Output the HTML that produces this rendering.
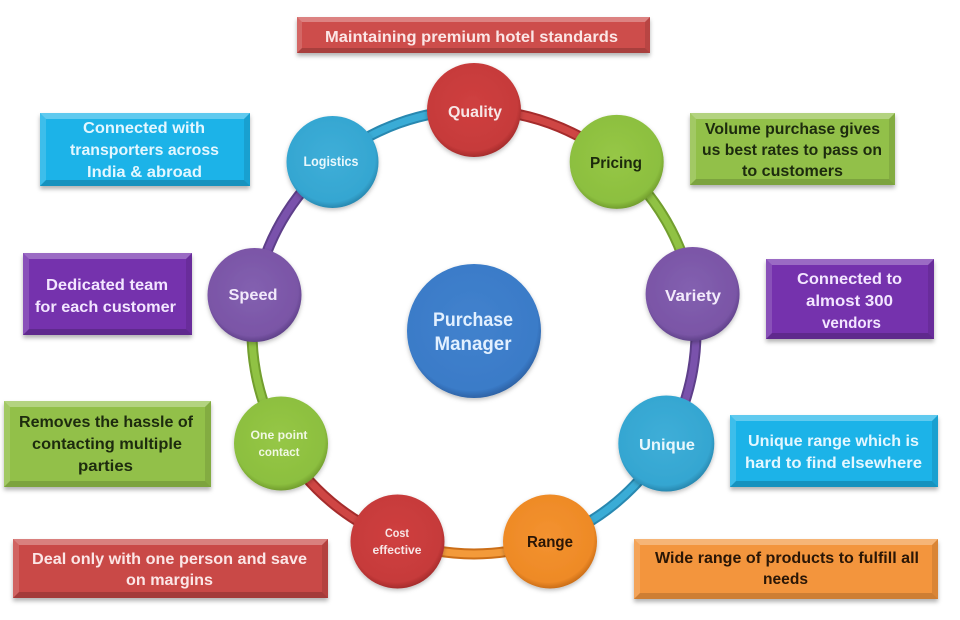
<!DOCTYPE html>
<html><head><meta charset="utf-8"><style>
html,body{margin:0;padding:0;background:#fff;}
svg{display:block;}
text{font-family:"Liberation Sans",sans-serif;font-weight:bold;text-anchor:middle;}
</style></head><body>
<svg width="960" height="620" viewBox="0 0 960 620" xmlns="http://www.w3.org/2000/svg">
<defs>
<filter id="sh" x="-10%" y="-20%" width="120%" height="150%"><feDropShadow dx="0" dy="3" stdDeviation="2" flood-color="#000" flood-opacity="0.3"/></filter>
<filter id="csh" x="-20%" y="-20%" width="140%" height="140%"><feDropShadow dx="0" dy="2" stdDeviation="2" flood-color="#000" flood-opacity="0.25"/></filter>
<radialGradient id="gr" cx="48%" cy="45%" r="55%"><stop offset="0" stop-color="#cf4040"/><stop offset="0.88" stop-color="#c63a3a"/><stop offset="1" stop-color="#a52c2c"/></radialGradient>
<radialGradient id="gg" cx="48%" cy="45%" r="55%"><stop offset="0" stop-color="#96c746"/><stop offset="0.88" stop-color="#8cbf3f"/><stop offset="1" stop-color="#729e2e"/></radialGradient>
<radialGradient id="gp" cx="48%" cy="45%" r="55%"><stop offset="0" stop-color="#8360b0"/><stop offset="0.88" stop-color="#7a55a6"/><stop offset="1" stop-color="#60428a"/></radialGradient>
<radialGradient id="gc" cx="48%" cy="45%" r="55%"><stop offset="0" stop-color="#3eaed8"/><stop offset="0.88" stop-color="#35a6d1"/><stop offset="1" stop-color="#2888b0"/></radialGradient>
<radialGradient id="go" cx="48%" cy="45%" r="55%"><stop offset="0" stop-color="#f39230"/><stop offset="0.88" stop-color="#ee8a26"/><stop offset="1" stop-color="#cb6e18"/></radialGradient>
<radialGradient id="gb" cx="48%" cy="45%" r="55%"><stop offset="0" stop-color="#4282cd"/><stop offset="0.9" stop-color="#3a7bc8"/><stop offset="1" stop-color="#2e63a6"/></radialGradient>
</defs>

<!-- ring arcs -->
<g fill="none" stroke-linecap="butt">
<path d="M474,110 A222,222 0 0 1 616.7,161.9" stroke="#a52c2c" stroke-width="11"/>
<path d="M474,110 A222,222 0 0 1 616.7,161.9" stroke="#cf4644" stroke-width="7"/>
<path d="M616.7,161.9 A222,222 0 0 1 692.6,293.5" stroke="#729e2e" stroke-width="11"/>
<path d="M616.7,161.9 A222,222 0 0 1 692.6,293.5" stroke="#90c244" stroke-width="7"/>
<path d="M692.6,293.5 A222,222 0 0 1 666.3,443" stroke="#5e3f8a" stroke-width="11"/>
<path d="M692.6,293.5 A222,222 0 0 1 666.3,443" stroke="#7a52ac" stroke-width="7"/>
<path d="M666.3,443 A222,222 0 0 1 549.9,540.6" stroke="#2888b0" stroke-width="11"/>
<path d="M666.3,443 A222,222 0 0 1 549.9,540.6" stroke="#3aacd6" stroke-width="7"/>
<path d="M549.9,540.6 A222,222 0 0 1 398.1,540.6" stroke="#cb6e18" stroke-width="11"/>
<path d="M549.9,540.6 A222,222 0 0 1 398.1,540.6" stroke="#f39a3a" stroke-width="7"/>
<path d="M398.1,540.6 A222,222 0 0 1 281.7,443" stroke="#a52c2c" stroke-width="11"/>
<path d="M398.1,540.6 A222,222 0 0 1 281.7,443" stroke="#cf4644" stroke-width="7"/>
<path d="M281.7,443 A222,222 0 0 1 255.4,293.5" stroke="#729e2e" stroke-width="11"/>
<path d="M281.7,443 A222,222 0 0 1 255.4,293.5" stroke="#90c244" stroke-width="7"/>
<path d="M255.4,293.5 A222,222 0 0 1 331.3,161.9" stroke="#5e3f8a" stroke-width="11"/>
<path d="M255.4,293.5 A222,222 0 0 1 331.3,161.9" stroke="#7a52ac" stroke-width="7"/>
<path d="M331.3,161.9 A222,222 0 0 1 474,110" stroke="#2888b0" stroke-width="11"/>
<path d="M331.3,161.9 A222,222 0 0 1 474,110" stroke="#3aacd6" stroke-width="7"/>
</g>

<!-- circles -->
<g filter="url(#csh)">
<circle cx="474" cy="110" r="47" fill="url(#gr)"/>
<circle cx="616.7" cy="161.9" r="47" fill="url(#gg)"/>
<circle cx="692.6" cy="294" r="47" fill="url(#gp)"/>
<circle cx="666.3" cy="443.5" r="48" fill="url(#gc)"/>
<circle cx="550" cy="541.5" r="47" fill="url(#go)"/>
<circle cx="397.5" cy="541.5" r="47" fill="url(#gr)"/>
<circle cx="281" cy="443.5" r="47" fill="url(#gg)"/>
<circle cx="254.5" cy="295" r="47" fill="url(#gp)"/>
<circle cx="332.5" cy="162" r="46" fill="url(#gc)"/>
<circle cx="474" cy="331" r="67" fill="url(#gb)"/>
</g>

<!-- circle labels -->
<text x="475" y="117" font-size="16" fill="#f7e6e6" textLength="54" lengthAdjust="spacingAndGlyphs">Quality</text>
<text x="616" y="168" font-size="16" fill="#1c2a0c" textLength="52" lengthAdjust="spacingAndGlyphs">Pricing</text>
<text x="693" y="301" font-size="16" fill="#f2eafb" textLength="56" lengthAdjust="spacingAndGlyphs">Variety</text>
<text x="667" y="450" font-size="16" fill="#e8f7fc" textLength="56" lengthAdjust="spacingAndGlyphs">Unique</text>
<text x="550" y="547" font-size="16" fill="#2a1606" textLength="46" lengthAdjust="spacingAndGlyphs">Range</text>
<text x="397" y="537" font-size="12" fill="#f7e6e6" textLength="24" lengthAdjust="spacingAndGlyphs">Cost</text>
<text x="397" y="554" font-size="12" fill="#f7e6e6" textLength="49" lengthAdjust="spacingAndGlyphs">effective</text>
<text x="279" y="439" font-size="12" fill="#f1f8e4" textLength="57" lengthAdjust="spacingAndGlyphs">One point</text>
<text x="279" y="456" font-size="12" fill="#f1f8e4" textLength="41" lengthAdjust="spacingAndGlyphs">contact</text>
<text x="253" y="300" font-size="16" fill="#f2eafb" textLength="49" lengthAdjust="spacingAndGlyphs">Speed</text>
<text x="331" y="166" font-size="14" fill="#e8f7fc" textLength="55" lengthAdjust="spacingAndGlyphs">Logistics</text>
<text x="473" y="326" font-size="19" fill="#e2f0ff" textLength="80" lengthAdjust="spacingAndGlyphs">Purchase</text>
<text x="473" y="350" font-size="19" fill="#e2f0ff" textLength="77" lengthAdjust="spacingAndGlyphs">Manager</text>

<!-- boxes -->
<g filter="url(#sh)"><rect x="297" y="17" width="353" height="36" fill="#cd4d4b"/></g>
<polygon points="297,17 650,17 645,22 302,22" fill="#fff" opacity="0.3"/>
<polygon points="297,53 650,53 645,48 302,48" fill="#000" opacity="0.18"/>
<polygon points="297,17 302,22 302,48 297,53" fill="#fff" opacity="0.15"/>
<polygon points="650,17 645,22 645,48 650,53" fill="#000" opacity="0.1"/>
<text x="471.5" y="42" font-size="16" fill="#fbe6e6" textLength="293" lengthAdjust="spacingAndGlyphs">Maintaining premium hotel standards</text>

<g filter="url(#sh)"><rect x="40" y="113" width="210" height="73" fill="#1ab3e8"/></g>
<polygon points="40,113 250,113 244,119 46,119" fill="#fff" opacity="0.3"/>
<polygon points="40,186 250,186 244,180 46,180" fill="#000" opacity="0.18"/>
<polygon points="40,113 46,119 46,180 40,186" fill="#fff" opacity="0.15"/>
<polygon points="250,113 244,119 244,180 250,186" fill="#000" opacity="0.1"/>
<text x="144" y="133" font-size="16" fill="#e3f7ff" textLength="122" lengthAdjust="spacingAndGlyphs">Connected with</text>
<text x="144.5" y="155" font-size="16" fill="#e3f7ff" textLength="149" lengthAdjust="spacingAndGlyphs">transporters across</text>
<text x="144.5" y="177" font-size="16" fill="#e3f7ff" textLength="115" lengthAdjust="spacingAndGlyphs">India &amp; abroad</text>

<g filter="url(#sh)"><rect x="23" y="253" width="169" height="82" fill="#7531ad"/></g>
<polygon points="23,253 192,253 186,259 29,259" fill="#fff" opacity="0.28"/>
<polygon points="23,335 192,335 186,329 29,329" fill="#000" opacity="0.18"/>
<polygon points="23,253 29,259 29,329 23,335" fill="#fff" opacity="0.15"/>
<polygon points="192,253 186,259 186,329 192,335" fill="#000" opacity="0.1"/>
<text x="107" y="290" font-size="16" fill="#f3e6ff" textLength="122" lengthAdjust="spacingAndGlyphs">Dedicated team</text>
<text x="105.5" y="312" font-size="16" fill="#f3e6ff" textLength="141" lengthAdjust="spacingAndGlyphs">for each customer</text>

<g filter="url(#sh)"><rect x="4" y="401" width="207" height="86" fill="#92c04a"/></g>
<polygon points="4,401 211,401 205,407 10,407" fill="#fff" opacity="0.3"/>
<polygon points="4,487 211,487 205,481 10,481" fill="#000" opacity="0.15"/>
<polygon points="4,401 10,407 10,481 4,487" fill="#fff" opacity="0.15"/>
<polygon points="211,401 205,407 205,481 211,487" fill="#000" opacity="0.1"/>
<text x="106" y="427" font-size="16" fill="#1d2b0e" textLength="174" lengthAdjust="spacingAndGlyphs">Removes the hassle of</text>
<text x="107" y="449" font-size="16" fill="#1d2b0e" textLength="150" lengthAdjust="spacingAndGlyphs">contacting multiple</text>
<text x="105.5" y="471" font-size="16" fill="#1d2b0e" textLength="55" lengthAdjust="spacingAndGlyphs">parties</text>

<g filter="url(#sh)"><rect x="13" y="539" width="315" height="59" fill="#c94a47"/></g>
<polygon points="13,539 328,539 322,545 19,545" fill="#fff" opacity="0.3"/>
<polygon points="13,598 328,598 322,592 19,592" fill="#000" opacity="0.18"/>
<polygon points="13,539 19,545 19,592 13,598" fill="#fff" opacity="0.15"/>
<polygon points="328,539 322,545 322,592 328,598" fill="#000" opacity="0.1"/>
<text x="169.5" y="564" font-size="16" fill="#fbe6e6" textLength="275" lengthAdjust="spacingAndGlyphs">Deal only with one person and save</text>
<text x="169.5" y="585" font-size="16" fill="#fbe6e6" textLength="87" lengthAdjust="spacingAndGlyphs">on margins</text>

<g filter="url(#sh)"><rect x="690" y="113" width="205" height="72" fill="#92c04a"/></g>
<polygon points="690,113 895,113 889,119 696,119" fill="#fff" opacity="0.3"/>
<polygon points="690,185 895,185 889,179 696,179" fill="#000" opacity="0.15"/>
<polygon points="690,113 696,119 696,179 690,185" fill="#fff" opacity="0.15"/>
<polygon points="895,113 889,119 889,179 895,185" fill="#000" opacity="0.1"/>
<text x="792.5" y="134" font-size="16" fill="#1d2b0e" textLength="175" lengthAdjust="spacingAndGlyphs">Volume purchase gives</text>
<text x="792" y="155" font-size="16" fill="#1d2b0e" textLength="180" lengthAdjust="spacingAndGlyphs">us best rates to pass  on</text>
<text x="792.5" y="176" font-size="16" fill="#1d2b0e" textLength="101" lengthAdjust="spacingAndGlyphs">to customers</text>

<g filter="url(#sh)"><rect x="766" y="259" width="168" height="80" fill="#7531ad"/></g>
<polygon points="766,259 934,259 928,265 772,265" fill="#fff" opacity="0.28"/>
<polygon points="766,339 934,339 928,333 772,333" fill="#000" opacity="0.18"/>
<polygon points="766,259 772,265 772,333 766,339" fill="#fff" opacity="0.15"/>
<polygon points="934,259 928,265 928,333 934,339" fill="#000" opacity="0.1"/>
<text x="849.5" y="284" font-size="16" fill="#f3e6ff" textLength="105" lengthAdjust="spacingAndGlyphs">Connected to</text>
<text x="849.5" y="306" font-size="16" fill="#f3e6ff" textLength="87" lengthAdjust="spacingAndGlyphs">almost 300</text>
<text x="851.5" y="328" font-size="16" fill="#f3e6ff" textLength="59" lengthAdjust="spacingAndGlyphs">vendors</text>

<g filter="url(#sh)"><rect x="730" y="415" width="208" height="72" fill="#1ab3e8"/></g>
<polygon points="730,415 938,415 932,421 736,421" fill="#fff" opacity="0.3"/>
<polygon points="730,487 938,487 932,481 736,481" fill="#000" opacity="0.18"/>
<polygon points="730,415 736,421 736,481 730,487" fill="#fff" opacity="0.15"/>
<polygon points="938,415 932,421 932,481 938,487" fill="#000" opacity="0.1"/>
<text x="833.5" y="446" font-size="16" fill="#e3f7ff" textLength="171" lengthAdjust="spacingAndGlyphs">Unique range which is</text>
<text x="833.5" y="468" font-size="16" fill="#e3f7ff" textLength="177" lengthAdjust="spacingAndGlyphs">hard to find elsewhere</text>

<g filter="url(#sh)"><rect x="634" y="539" width="304" height="60" fill="#f3953c"/></g>
<polygon points="634,539 938,539 932,545 640,545" fill="#fff" opacity="0.3"/>
<polygon points="634,599 938,599 932,593 640,593" fill="#000" opacity="0.15"/>
<polygon points="634,539 640,545 640,593 634,599" fill="#fff" opacity="0.15"/>
<polygon points="938,539 932,545 932,593 938,599" fill="#000" opacity="0.1"/>
<text x="787" y="563" font-size="16" fill="#2a1606" textLength="264" lengthAdjust="spacingAndGlyphs">Wide range of products to fulfill all</text>
<text x="785.5" y="584" font-size="16" fill="#2a1606" textLength="45" lengthAdjust="spacingAndGlyphs">needs</text>
</svg>
</body></html>
